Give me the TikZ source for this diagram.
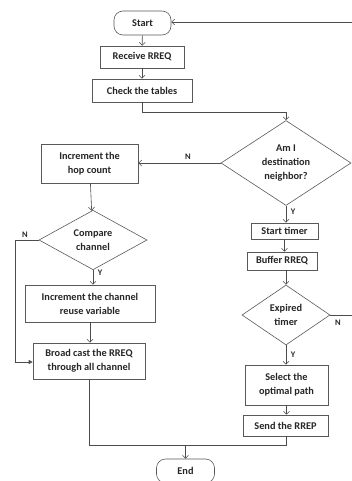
\documentclass[tikz,border=0pt]{standalone}
\usepackage{fontspec}
\setmainfont{Carlito}
\usetikzlibrary{shapes.geometric,arrows.meta}
\begin{document}
\begin{tikzpicture}[x=1pt,y=-1pt,
  font=\bfseries\fontsize{10.3}{14}\selectfont,
  box/.style={draw=black!65, line width=0.6pt, fill=white, inner sep=0pt, align=center, text=black!85},
  term/.style={box, rounded corners=9pt},
  dia/.style={draw=black!65, line width=0.6pt, diamond, inner sep=0pt, align=center, text=black!85},
  conn/.style={draw=black!70, line width=0.6pt},
  arr/.style={conn, -{Straight Barb[length=3pt,width=6pt]}},
  farr/.style={conn, -{Triangle[length=4pt,width=4pt]}},
  lbl/.style={font=\bfseries\fontsize{8.5}{9}\selectfont, text=black!85, inner sep=0pt}
]
\useasboundingbox (0,0) rectangle (352,481);
% nodes
\node[term, minimum width=57pt, minimum height=24pt] (start) at (142.5,23) {Start};
\node[box, minimum width=84pt, minimum height=22pt] (recv) at (142,57) {Receive RREQ};
\node[box, minimum width=100pt, minimum height=23pt] (check) at (142,90.5) {Check the tables};
\node[dia, minimum width=130pt, minimum height=85pt] (dest) at (286,163) {Am I\\destination\\neighbor?};
\node[box, minimum width=97pt, minimum height=39pt] (hop) at (89.5,163.5) {Increment the\\hop count};
\node[dia, minimum width=108pt, minimum height=56pt] (cmp) at (93,240) {Compare\\channel};
\node[box, minimum width=130pt, minimum height=37pt] (reuse) at (90,303.5) {Increment the channel\\reuse variable};
\node[box, minimum width=112pt, minimum height=36pt] (bcast) at (89,361) {Broad cast the RREQ\\through all channel};
\node[box, minimum width=67pt, minimum height=16pt] (timer) at (284.5,231) {Start timer};
\node[box, minimum width=70pt, minimum height=18pt] (buf) at (282,261) {Buffer RREQ};
\node[dia, minimum width=88pt, minimum height=60pt] (exp) at (286,315) {Expired\\timer};
\node[box, minimum width=83pt, minimum height=40pt] (sel) at (286.5,385) {Select the\\optimal path};
\node[box, minimum width=85pt, minimum height=21pt] (send) at (285.5,425.5) {Send the RREP};
\node[term, minimum width=58pt, minimum height=24pt] (end) at (185.5,471) {End};
% helper coordinates
\coordinate (c1) at (142,112);
\coordinate (c2) at (15,240);
\coordinate (c3) at (15,362);
\coordinate (jl) at (89,445);
\coordinate (jr) at (286,445);
\coordinate (jm) at (185.5,445);
\coordinate (er) at (352,315);
\coordinate (sr) at (352,22);
% connectors
\draw[arr] (start) -- (recv);
\draw[arr] (recv) -- (check);
\draw[arr] (check.south) -- (c1) -| (dest.north);
\draw[arr] (dest.west) -- (hop.east |- dest.west);
\draw[arr] (hop) -- (cmp);
\draw[arr] (cmp.south) -- (reuse.north -| cmp.south);
\draw[arr] (reuse) -- (bcast.north -| reuse.south);
\draw[farr] (cmp.west) -- (c2) -- (c3) -- (bcast.west |- c3);
\draw[arr] (dest.south) -- (timer.north -| dest.south);
\draw[arr] (timer) -- (buf.north -| timer.south);
\draw[arr] (buf.south -| exp.north) -- (exp.north);
\draw[arr] (exp.south) -- (sel.north -| exp.south);
\draw[arr] (sel) -- (send.north -| sel.south);
\draw[conn] (bcast.south) -- (jl) -- (jr) -- (send.south -| jr);
\draw[arr] (jm) -- (end);
\draw[conn] (exp.east) -- (er);
\draw[arr] (sr) -- (start.east |- sr);
% labels
\node[lbl] (ln1) at (188,157) {N};
\node[lbl] (ly1) at (293,212) {Y};
\node[lbl] (ln2) at (25,235) {N};
\node[lbl] (ly2) at (100,273) {Y};
\node[lbl] (ln3) at (338,323) {N};
\node[lbl] (ly3) at (293,355) {Y};
\end{tikzpicture}
\end{document}
